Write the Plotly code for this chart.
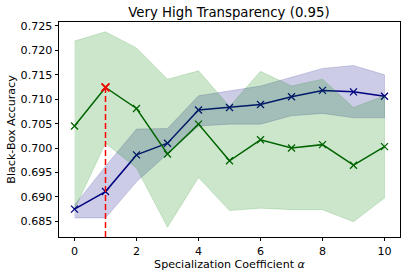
import plotly.graph_objects as go

alpha = [0, 1, 2, 3, 4, 5, 6, 7, 8, 9, 10]

blue_mean = [0.6875, 0.6911, 0.6986, 0.7010, 0.7078, 0.7083, 0.7089, 0.7105, 0.7118, 0.7115, 0.7106]
blue_low = [0.6857, 0.6857, 0.6931, 0.6988, 0.7045, 0.7049, 0.7049, 0.7066, 0.7071, 0.7062, 0.7062]
blue_high = [0.6883, 0.6963, 0.7039, 0.7040, 0.7107, 0.7117, 0.7127, 0.7145, 0.7163, 0.7169, 0.7150]

green_mean = [0.7045, 0.7124, 0.7081, 0.6988, 0.7049, 0.6974, 0.7017, 0.7000, 0.7007, 0.6965, 0.7003]
green_low = [0.6875, 0.7010, 0.6959, 0.6838, 0.6940, 0.6872, 0.6877, 0.6874, 0.6874, 0.6849, 0.6898]
green_high = [0.7219, 0.7238, 0.7205, 0.7141, 0.7158, 0.7085, 0.7157, 0.7127, 0.7141, 0.7083, 0.7107]

title = "Very High Transparency (0.95)"
xlabel = "Specialization Coefficient <i>α</i>"
ylabel = "Black-Box Accuracy"
xticks = [0, 2, 4, 6, 8, 10]
yticks = [0.685, 0.690, 0.695, 0.700, 0.705, 0.710, 0.715, 0.720, 0.725]

# axis limits with matplotlib-like 5% margin
all_vals = blue_low + blue_high + green_low + green_high
lo, hi = min(all_vals), max(all_vals)
pad = (hi - lo) * 0.05
yr = [lo - pad, hi + pad]
xr = [alpha[0] - 0.5, alpha[-1] + 0.5]

fig = go.Figure()

def band(low, high, color):
    fig.add_trace(go.Scatter(
        x=alpha + alpha[::-1], y=high + low[::-1], fill="toself",
        fillcolor=color, line=dict(width=0.8, color=color), mode="lines",
        hoverinfo="skip", showlegend=False))

band(blue_low, blue_high, "rgba(0,0,128,0.2)")
fig.add_trace(go.Scatter(x=alpha, y=blue_mean, mode="lines+markers",
                         line=dict(color="#000080", width=1.5),
                         marker=dict(symbol="x-thin", size=7, line=dict(width=1.3, color="#000080")),
                         showlegend=False))
band(green_low, green_high, "rgba(0,128,0,0.2)")
fig.add_trace(go.Scatter(x=alpha, y=green_mean, mode="lines+markers",
                         line=dict(color="#006400", width=1.5),
                         marker=dict(symbol="x-thin", size=7, line=dict(width=1.3, color="#006400")),
                         showlegend=False))

best = max(range(len(green_mean)), key=lambda i: green_mean[i])
fig.add_trace(go.Scatter(x=[alpha[best], alpha[best]], y=[yr[0], green_mean[best]], mode="lines",
                         line=dict(color="red", width=1.5, dash="6px,3px"), showlegend=False))
fig.add_trace(go.Scatter(x=[alpha[best]], y=[green_mean[best]], mode="markers",
                         marker=dict(symbol="x-thin", size=8, line=dict(width=1.8, color="red")),
                         showlegend=False))

font = "DejaVu Sans"
fig.update_layout(
    width=407, height=277,
    margin=dict(l=59, r=7, t=22, b=40, autoexpand=False),
    paper_bgcolor="white", plot_bgcolor="white",
    font=dict(family=font, color="black", size=11),
    title=dict(text=title, x=0.5625, xanchor="center", y=0.957, yanchor="middle",
               font=dict(size=13.3, family=font, color="black")),
)
fig.update_xaxes(range=xr, tickvals=xticks, ticks="outside", ticklen=3.5, tickwidth=0.8,
                 tickcolor="black", showline=True, linecolor="black", linewidth=0.8, mirror=True,
                 showgrid=False, zeroline=False, tickfont=dict(size=11.1), automargin=False,
                 title=dict(text=xlabel, font=dict(size=11.1), standoff=2))
fig.update_yaxes(range=yr, tickvals=yticks, tickformat=".3f", ticks="outside", ticklen=3.5,
                 tickwidth=0.8, tickcolor="black", showline=True, linecolor="black", linewidth=0.8,
                 mirror=True, showgrid=False, zeroline=False, tickfont=dict(size=11.1), automargin=False,
                 title=dict(text=ylabel, font=dict(size=11.1), standoff=2))

fig.write_html("out.html", config={"displayModeBar": False})

# remove default page margin so the figure sits at the window's top-left corner
with open("out.html", encoding="utf-8") as f:
    html = f.read()
html = html.replace("<body>", '<body style="margin:0;padding:0;overflow:hidden">', 1)
with open("out.html", "w", encoding="utf-8") as f:
    f.write(html)
